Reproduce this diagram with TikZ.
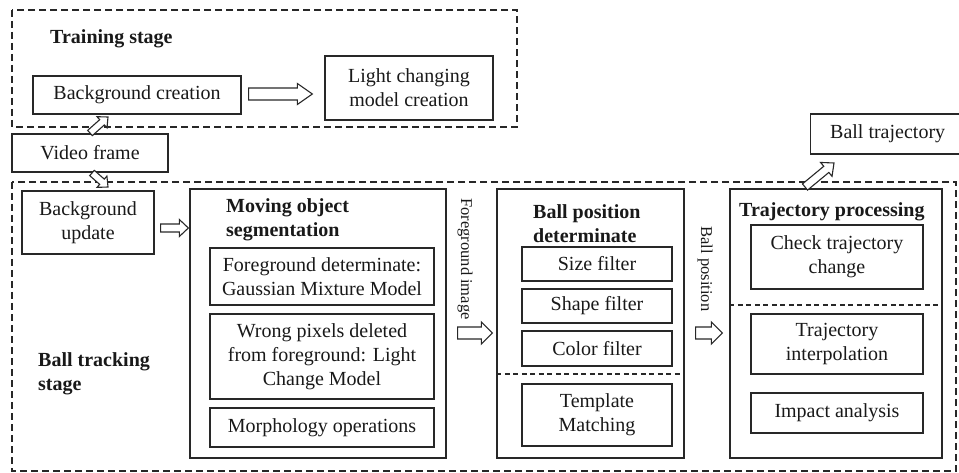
\documentclass[tikz,border=0pt]{standalone}
\usepackage{fontspec}
\setmainfont{Liberation Serif}
\usetikzlibrary{calc}
\definecolor{lc}{RGB}{40,40,40}
\definecolor{tc}{RGB}{25,25,25}
\newcommand{\bodyfont}{\fontsize{20}{24}\selectfont}
\newcommand{\titlefont}{\fontsize{20}{23.5}\selectfont\bfseries}
\newcommand{\sidefont}{\fontsize{16.5}{20}\selectfont}
\tikzset{
  box/.style={draw=lc, line width=1.3pt, align=center, inner sep=0pt, text=tc, font=\bodyfont},
  stagebox/.style={draw=lc, line width=1.5pt, dash pattern=on 7pt off 4pt},
  sepline/.style={draw=lc, line width=1.1pt, dash pattern=on 5pt off 3.5pt},
  ttl/.style={align=left, inner sep=0pt, text=tc, font=\titlefont},
  side/.style={inner sep=0pt, text=tc, font=\sidefont, rotate=-90},
  harrow/.style={draw=lc, line width=1.1pt, fill=white, line join=miter}
}
\newcommand{\hollowarrow}[5]{%
  \coordinate (hatmp) at ($#2!#5!#1$);
  \draw[harrow] ($#1!#3!90:#2$) -- ($(hatmp)!#3!90:#2$) -- ($(hatmp)!#4!90:#2$) -- #2
    -- ($(hatmp)!#4!-90:#2$) -- ($(hatmp)!#3!-90:#2$) -- ($#1!#3!-90:#2$) -- cycle;}
\begin{document}
\begin{tikzpicture}[x=1pt,y=-1pt]
\useasboundingbox (0,0) rectangle (959,473);
\fill[white] (0,0) rectangle (959,473);

% stage frames
\draw[stagebox] (12,10) rectangle (517,127);
\draw[stagebox] (12,182) rectangle (956,471);

% training stage
\node[ttl, anchor=west] (trainlbl) at (50,39) {Training stage};
\node[box, minimum width=208, minimum height=38] (bgc) at (137,95) {Background creation};
\node[box, minimum width=168, minimum height=64] (lcm) at (409,88) {Light changing\\model creation};

% video frame / ball trajectory
\node[box, minimum width=156, minimum height=38] (vf) at (90,153) {Video frame};
\node[box, minimum width=154, minimum height=40, anchor=west] (bt) at (810,134) {Ball trajectory};

% ball tracking stage
\node[ttl, anchor=west] (tracklbl) at (38,374) {Ball tracking\\stage};
\node[box, minimum width=132, minimum height=63] (bgu) at (88,222.5) {Background\\update};

% moving object segmentation
\node[box, minimum width=256, minimum height=269] (mos) at (318,323.5) {};
\node[ttl, anchor=west] (mostitle) at (226,220) {Moving object\\segmentation};
\node[box, minimum width=224, minimum height=57] (fgd) at (322,276.5) {Foreground determinate:\\Gaussian Mixture Model};
\node[box, minimum width=224, minimum height=85] (wp) at (322,356.5) {Wrong pixels deleted\\from foreground: Light\\Change Model};
\node[box, minimum width=224, minimum height=39] (mo) at (322,427.5) {Morphology operations};

\node[side] (fgi) at (465,259) {Foreground image};

% ball position determinate
\node[box, minimum width=187, minimum height=269] (bpd) at (590.5,323.5) {};
\node[ttl, anchor=west] (bpdtitle) at (533,223.5) {Ball position\\determinate};
\node[box, minimum width=150, minimum height=34] (sf) at (597,264) {Size filter};
\node[box, minimum width=150, minimum height=34] (shf) at (597,306) {Shape filter};
\node[box, minimum width=150, minimum height=35] (cf) at (597,348.5) {Color filter};
\draw[sepline] (bpd.west |- 0,374) -- (bpd.east |- 0,374);
\node[box, minimum width=150, minimum height=62] (tm) at (597,415) {Template\\Matching};

\node[side] (bpl) at (705,269) {Ball position};

% trajectory processing
\node[box, minimum width=212, minimum height=269] (tp) at (836,323.5) {};
\node[ttl, anchor=west] (tptitle) at (739,212) {Trajectory processing};
\node[box, minimum width=172, minimum height=64] (ctc) at (837,257) {Check trajectory\\change};
\draw[sepline] (tp.west |- 0,305) -- (tp.east |- 0,305);
\node[box, minimum width=172, minimum height=60] (ti) at (837,344) {Trajectory\\interpolation};
\node[box, minimum width=172, minimum height=40] (ia) at (837,413) {Impact analysis};

% hollow arrows
\coordinate (a1s) at ($(bgc.east)+(7,-1)$);
\coordinate (a1e) at ($(lcm.west |- a1s)+(-12,0)$);
\hollowarrow{(a1s)}{(a1e)}{6pt}{10.5pt}{15pt}

\coordinate (a2s) at (90,133);
\coordinate (a2e) at (108,117);
\hollowarrow{(a2s)}{(a2e)}{3.5pt}{7.5pt}{8pt}

\coordinate (a3s) at (92,173);
\coordinate (a3e) at (108,187);
\hollowarrow{(a3s)}{(a3e)}{3.5pt}{7.5pt}{8pt}

\coordinate (a4s) at ($(bgu.east |- 0,228)+(6,0)$);
\coordinate (a4e) at ($(mos.west |- 0,228)+(-1,0)$);
\hollowarrow{(a4s)}{(a4e)}{4pt}{8.5pt}{9pt}

\coordinate (a5s) at ($(mos.east |- 0,333)+(11,0)$);
\coordinate (a5e) at ($(bpd.west |- 0,333)+(-4,0)$);
\hollowarrow{(a5s)}{(a5e)}{6pt}{11pt}{11pt}

\coordinate (a6s) at ($(bpd.east |- 0,333)+(11,0)$);
\coordinate (a6e) at ($(tp.west |- 0,333)+(-7,0)$);
\hollowarrow{(a6s)}{(a6e)}{6pt}{11pt}{11pt}

\coordinate (a7s) at (805,187);
\coordinate (a7e) at (834,163);
\hollowarrow{(a7s)}{(a7e)}{4pt}{9pt}{10pt}
\end{tikzpicture}
\end{document}
